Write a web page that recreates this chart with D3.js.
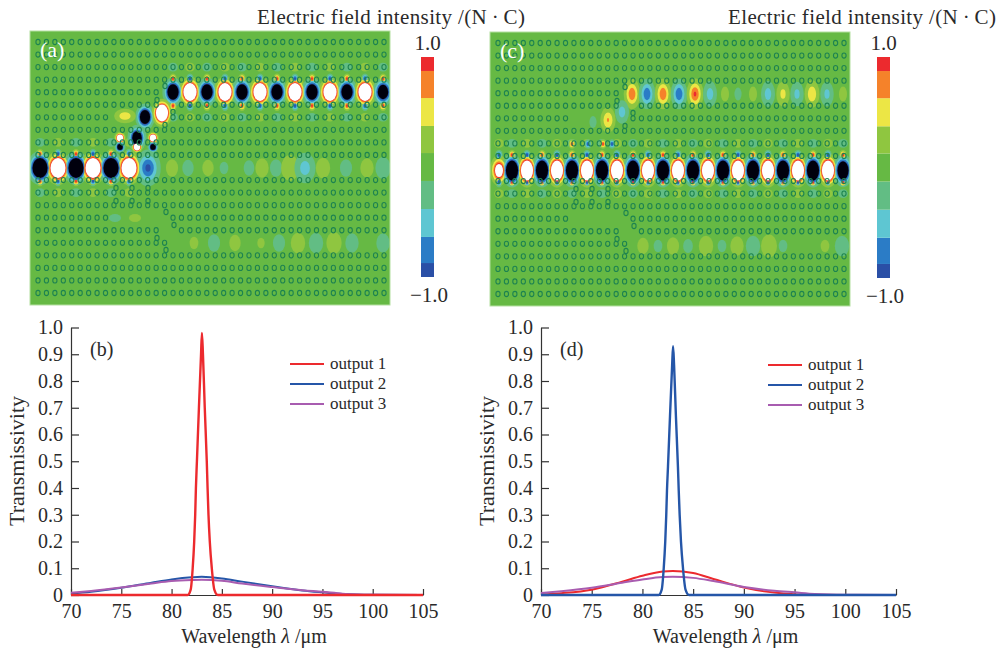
<!DOCTYPE html>
<html>
<head>
<meta charset="utf-8">
<script src="https://cdn.jsdelivr.net/npm/d3@7"></script>
<style>
  html, body { margin: 0; padding: 0; background: #fff; }
  svg { display: block; }
  text { font-family: "Liberation Serif", serif; fill: #2a2a2a; }
</style>
</head>
<body>
<svg id="chart" width="1000" height="648"></svg>
<script>
// colour bar bands, bottom to top
const bandEdges = [-1, -0.873, -0.636, -0.382, -0.127, 0.127, 0.373, 0.627, 0.873, 1];
const bandColors = ["#2a4fa6", "#2b7cc6", "#5ec6d2", "#62bd84", "#66b944", "#8fc640", "#ece645", "#f5822a", "#ec2a2e"];

// field lobes: position along the panel and field value (beyond +-1 the plot saturates)
const aUpperX = [143, 160, 177, 195, 212, 230, 247, 265, 282, 300, 317, 335, 353];
const aUpperV = [-2.2, 3, -2.2, 3, -2.2, 3, -2.2, 3, -2.2, 3, -2.2, 3, -2];
const aLowerX = [10, 28, 46, 63, 81, 99];
const aLowerV = [-3, 3, -3, 3, -3, 3];
const aWeakX = [118, 142, 158, 178, 194, 219, 232, 246, 260, 275, 293, 316, 337, 353];
const aWeakV = [-0.95, 0.2, -0.19, 0.19, -0.16, -0.18, 0.22, -0.2, 0.34, -0.5, 0.24, -0.2, 0.22, -0.26];
const aLowerWeakX = [164, 184, 205, 231, 249, 268, 286, 304, 322, 353];
const aLowerWeakV = [0.16, -0.2, 0.19, 0.15, -0.2, 0.24, -0.24, 0.26, -0.22, -0.22];
const aCoreX = [107, 115, 132];
const aCoreY = [107, 86, 82];
const aCoreV = [-2, -2.2, 3];
const aGlowX = [95, 85, 105];
const aGlowY = [85, 187, 187];
const aGlowV = [0.55, -0.2, 0.2];
const aCrossX = [107, 90, 123, 90, 123];
const aCrossY = [116, 107, 107, 116, 116];
const aCrossV = [2.5, 2.5, 2.5, -2, -2];

const cUpperX = [142, 157, 173, 189, 205, 220, 235, 248, 263, 278, 293, 307, 322, 337, 353];
const cUpperV = [0.86, -0.86, 0.86, -0.86, 0.92, -0.5, 0.2, -0.18, 0.2, -0.5, 0.45, -0.45, 0.6, -0.45, 0.2];
const cLowerX = [9, 22, 37, 52, 67, 82, 97, 112, 127, 143, 158, 173, 188, 203, 218, 233, 248, 263, 278, 293, 308, 323, 338, 353];
const cLowerV = [1.6, -3, 3, -3, 3, -3, 3, -3, 3, -3, 3, -3, 3, -3, 3, -3, 3, -3, 3, -3, 3, -3, 3, -2.5];
const cBendX = [132, 118, 103];
const cBendY = [80, 88, 90];
const cBendV = [-0.5, 0.65, -0.18];
const cCrossX = [82, 98, 113, 122];
const cCrossY = [112, 112, 112, 112];
const cCrossV = [0.95, -0.95, 0.95, -0.95];
const cLowerWeakX = [153, 168, 183, 198, 216, 232, 247, 263, 279, 293, 335, 352];
const cLowerWeakV = [0.19, -0.16, 0.2, -0.17, 0.24, -0.16, 0.22, -0.24, 0.28, -0.16, 0.16, -0.24];

// lattice of rods: removed rods per row, and the extra rods along the bends
const holeCols = d3.range(42);
const holeRows = d3.range(21);
const removedRods = {
  4: d3.range(15, 42), 5: [15, 16], 6: d3.range(9, 16), 10: holeCols,
  14: d3.range(9, 16), 15: [15, 16], 16: d3.range(16, 42)
};
const extraRodX = [135, 127, 143, 135, 136, 144, 127, 136, 86, 86, 102, 102, 118, 118];
const extraRodY = [55, 69, 81, 94, 181, 194, 207, 219, 157, 170, 157, 170, 157, 170];

// spectra
const xTicks = [70, 75, 80, 85, 90, 95, 100, 105];
const yTicks = [0, 0.1, 0.2, 0.3, 0.4, 0.5, 0.6, 0.7, 0.8, 0.9, 1];
const seriesNames = ["output 1", "output 2", "output 3"];
const seriesColors = ["#ec2a2e", "#2556a8", "#a85cb0"];

const peakWave = [70, 81, 81.6, 81.9, 82.1, 82.25, 82.35, 82.42, 82.52, 82.72, 82.93, 83.02, 83.12, 83.3, 83.5, 83.58, 83.67, 83.8, 84, 84.25, 84.6, 86, 105];
const bPeak = [0, 0, 0, 0.02, 0.1, 0.2, 0.3, 0.4, 0.5, 0.7, 0.9, 0.98, 0.9, 0.7, 0.5, 0.4, 0.3, 0.2, 0.1, 0.02, 0, 0, 0];
const dPeak = [0, 0, 0, 0.02, 0.1, 0.2, 0.3, 0.39, 0.48, 0.67, 0.86, 0.93, 0.86, 0.67, 0.48, 0.39, 0.3, 0.2, 0.1, 0.02, 0, 0, 0];

const broadWave = [70, 72, 75, 78, 80, 82, 83, 85, 87, 90, 93, 95, 97, 100, 105];
const bOut2 = [0.005, 0.012, 0.027, 0.046, 0.058, 0.066, 0.068, 0.062, 0.05, 0.033, 0.017, 0.01, 0.004, 0.001, 0];
const bOut3 = [0.008, 0.015, 0.028, 0.043, 0.052, 0.056, 0.057, 0.053, 0.043, 0.03, 0.018, 0.012, 0.005, 0.001, 0];
const dOut1 = [0.002, 0.007, 0.02, 0.05, 0.072, 0.088, 0.09, 0.082, 0.06, 0.028, 0.009, 0.003, 0.001, 0, 0];
const dOut3 = [0.007, 0.014, 0.027, 0.046, 0.058, 0.067, 0.068, 0.064, 0.052, 0.03, 0.016, 0.01, 0.004, 0.001, 0];

const svg = d3.select("#chart");
const defs = svg.append("defs");
defs.append("filter").attr("id", "soft")
  .attr("x", "-5%").attr("y", "-5%").attr("width", "110%").attr("height", "110%")
  .append("feGaussianBlur").attr("stdDeviation", 0.6);
defs.append("filter").attr("id", "softer")
  .attr("x", "-5%").attr("y", "-5%").attr("width", "110%").attr("height", "110%")
  .append("feGaussianBlur").attr("stdDeviation", 0.3);

const bandScale = d3.scaleThreshold().domain(bandEdges.slice(1, -1)).range(bandColors);
const panelW = 360, panelH = 274;

function lobes(xs, vs, yAt, sx, sy) {
  return xs.map((x, i) => ({ x, y: yAt(i), v: vs[i], sx, sy }));
}

// one ellipse per colour band the lobe reaches, radius where a gaussian lobe crosses the band edge
function bandEllipses(list) {
  const out = [];
  const levels = bandEdges.slice(5).map((t, i) => ({ t, i }));
  list.forEach(l => {
    const a = Math.abs(l.v);
    levels.forEach(({ t, i }) => {
      if (a <= t) return;
      let color;
      if (t === 1) color = l.v > 0 ? "#ffffff" : "#05050f";
      else color = l.v > 0 ? bandColors[5 + i] : bandColors[3 - i];
      const k = Math.sqrt(Math.log(a / t));
      out.push({ x: l.x, y: l.y, rx: l.sx * k, ry: l.sy * k, color, t });
    });
  });
  return out.sort((p, q) => p.t - q.t);
}

function drawField(o) {
  const x = d3.scaleLinear().domain([0, panelW]).range([o.left, o.left + panelW]);
  const y = d3.scaleLinear().domain([0, panelH]).range([o.top, o.top + panelH]);
  const colPos = d3.scaleLinear().domain([0, 41]).range([8, 354]);
  const rowPos = d3.scaleLinear().domain([0, 20]).range([11, 262]);

  const clipId = "clip-" + o.name;
  defs.append("clipPath").attr("id", clipId).append("rect")
    .attr("x", o.left).attr("y", o.top).attr("width", panelW).attr("height", panelH);

  const g = svg.append("g").attr("clip-path", `url(#${clipId})`);
  g.append("rect")
    .attr("x", o.left).attr("y", o.top).attr("width", panelW).attr("height", panelH)
    .attr("fill", bandScale(0));

  // rods next to a strong lobe pick up the opposite sign
  const side = [];
  o.lobes.filter(l => l.guide && Math.abs(l.v) >= 1.5).forEach(l => {
    const s = l.v > 0 ? -1 : 1;
    [-1, 1].forEach(d => {
      side.push({ x: l.x, y: rowPos(l.row + d) + d, v: s * 0.97, sx: 2.6, sy: 3.6 });
      side.push({ x: l.x, y: rowPos(l.row + d * 2), v: -s * 0.17, sx: 9, sy: 8 });
    });
  });

  const field = g.append("g").attr("filter", "url(#soft)");
  field.selectAll("ellipse")
    .data(bandEllipses(side.concat(o.lobes)))
    .join("ellipse")
    .attr("cx", d => x(d.x))
    .attr("cy", d => y(d.y))
    .attr("rx", d => d.rx)
    .attr("ry", d => d.ry)
    .attr("fill", d => d.color);

  const rods = [];
  holeRows.forEach(r => holeCols.forEach(c => {
    if (!(removedRods[r] || []).includes(c)) rods.push({ x: colPos(c), y: rowPos(r) });
  }));
  extraRodX.forEach((px, i) => rods.push({ x: px, y: extraRodY[i] }));

  g.append("g").attr("filter", "url(#softer)").selectAll("ellipse")
    .data(rods)
    .join("ellipse")
    .attr("cx", d => x(d.x))
    .attr("cy", d => y(d.y))
    .attr("rx", 2.1)
    .attr("ry", 2.6)
    .attr("fill", "none")
    .attr("stroke", "#1f8450")
    .attr("stroke-width", 1.1);

  svg.append("rect")
    .attr("x", o.left).attr("y", o.top).attr("width", panelW).attr("height", panelH)
    .attr("fill", "none").attr("stroke", "#b4dfa0").attr("stroke-width", 1);

  svg.append("text").attr("x", o.left + 10).attr("y", o.top + 26)
    .attr("font-size", 22).style("fill", "#fff").text(o.label);

  svg.append("text").attr("x", o.titleX).attr("y", 24)
    .attr("font-size", 21).attr("textLength", 268).attr("lengthAdjust", "spacing")
    .text("Electric field intensity /(N\u2009\u00b7\u2009C)");

  // colour bar
  const barY = d3.scaleLinear().domain([-1, 1]).range([o.barBottom, o.barTop]);
  svg.append("g").selectAll("rect")
    .data(bandColors)
    .join("rect")
    .attr("x", o.barX)
    .attr("width", 13)
    .attr("y", (d, i) => barY(bandEdges[i + 1]))
    .attr("height", (d, i) => barY(bandEdges[i]) - barY(bandEdges[i + 1]))
    .attr("fill", d => d);

  svg.append("text").attr("x", o.barX + 6.5).attr("y", o.barTop - 7)
    .attr("text-anchor", "middle").attr("font-size", 21).text("1.0");
  svg.append("text").attr("x", o.barX + 8).attr("y", o.barBottom + 25)
    .attr("text-anchor", "middle").attr("font-size", 21).text("\u22121.0");
}

function drawSpectrum(o) {
  const x = d3.scaleLinear().domain([70, 105]).range([o.left, o.right]);
  const y = d3.scaleLinear().domain([0, 1]).range([595, 327.5]);
  const line = d3.line().x(d => x(d[0])).y(d => y(d[1])).curve(d3.curveMonotoneX);

  const axX = svg.append("g").attr("transform", "translate(0,595)")
    .call(d3.axisBottom(x).tickValues(xTicks).tickSizeInner(-6).tickSizeOuter(0).tickPadding(9));
  const axY = svg.append("g").attr("transform", `translate(${o.left},0)`)
    .call(d3.axisLeft(y).tickValues(yTicks).tickSizeInner(-8).tickSizeOuter(0).tickPadding(8)
      .tickFormat(d => d === 0 ? "0" : d3.format(".1f")(d)));
  [axX, axY].forEach(a => {
    a.selectAll("text").attr("font-size", 20).style("font-family", '"Liberation Serif", serif');
    a.selectAll("line, path").attr("stroke", "#333").attr("stroke-width", 1.2);
  });

  o.series.forEach(s => {
    svg.append("path")
      .datum(s.wave.map((w, i) => [w, s.values[i]]))
      .attr("fill", "none")
      .attr("stroke", seriesColors[s.idx])
      .attr("stroke-width", s.wave === peakWave ? 2.4 : 2)
      .attr("d", line);
  });

  const legendY = d3.scalePoint().domain(seriesNames).range([o.legendTop, o.legendTop + 40]);
  seriesNames.forEach((n, i) => {
    svg.append("line")
      .attr("x1", o.legendX).attr("x2", o.legendX + 34)
      .attr("y1", legendY(n)).attr("y2", legendY(n))
      .attr("stroke", seriesColors[i]).attr("stroke-width", 2);
    svg.append("text")
      .attr("x", o.legendX + 40).attr("y", legendY(n) + 5)
      .attr("font-size", 17).text(n);
  });

  svg.append("text").attr("x", o.left + 19).attr("y", 356).attr("font-size", 20).text(o.label);

  svg.append("text")
    .attr("transform", `translate(${o.left - 47},461) rotate(-90)`)
    .attr("text-anchor", "middle").attr("font-size", 22)
    .text("Transmissivity");

  const xl = svg.append("text").attr("x", (o.left + o.right) / 2 + 7).attr("y", 643)
    .attr("text-anchor", "middle").attr("font-size", 20);
  xl.append("tspan").text("Wavelength ");
  xl.append("tspan").attr("font-style", "italic").text("\u03bb");
  xl.append("tspan").text(" /\u03bcm");
}

drawField({
  name: "a", label: "(a)", left: 30, top: 31, titleX: 257, barX: 421, barTop: 57, barBottom: 277,
  lobes: [].concat(
    lobes(aUpperX, aUpperV, () => 61, 6.3, 8.6).map(l => ({ ...l, guide: true, row: 4 })),
    lobes(aLowerX, aLowerV, () => 137, 7.2, 9.6).map(l => ({ ...l, guide: true, row: 10 })),
    lobes(aWeakX, aWeakV, () => 137, 9, 13),
    lobes(aLowerWeakX, aLowerWeakV, () => 212, 9, 13),
    lobes(aCoreX, aCoreV, i => aCoreY[i], 5.8, 8),
    lobes(aGlowX, aGlowV, i => aGlowY[i], 9, 6),
    lobes(aCrossX, aCrossV, i => aCrossY[i], 3.3, 3.6)
  )
});

drawField({
  name: "c", label: "(c)", left: 490, top: 32, titleX: 728, barX: 877, barTop: 57, barBottom: 278,
  lobes: [].concat(
    lobes(cUpperX, cUpperV, () => 62, 6, 11),
    lobes(cLowerX, cLowerV, () => 138.5, 5.8, 9.6).map(l => ({ ...l, guide: true, row: 10 })),
    lobes(cBendX, cBendV, i => cBendY[i], 6, 10),
    lobes(cCrossX, cCrossV, i => cCrossY[i], 2.4, 3.4),
    lobes(cLowerWeakX, cLowerWeakV, () => 214, 9, 13)
  )
});

drawSpectrum({
  label: "(b)", left: 71, right: 423, legendX: 290, legendTop: 364,
  series: [
    { idx: 1, wave: broadWave, values: bOut2 },
    { idx: 2, wave: broadWave, values: bOut3 },
    { idx: 0, wave: peakWave, values: bPeak }
  ]
});

drawSpectrum({
  label: "(d)", left: 541, right: 896, legendX: 768, legendTop: 365,
  series: [
    { idx: 0, wave: broadWave, values: dOut1 },
    { idx: 2, wave: broadWave, values: dOut3 },
    { idx: 1, wave: peakWave, values: dPeak }
  ]
});
</script>
</body>
</html>
